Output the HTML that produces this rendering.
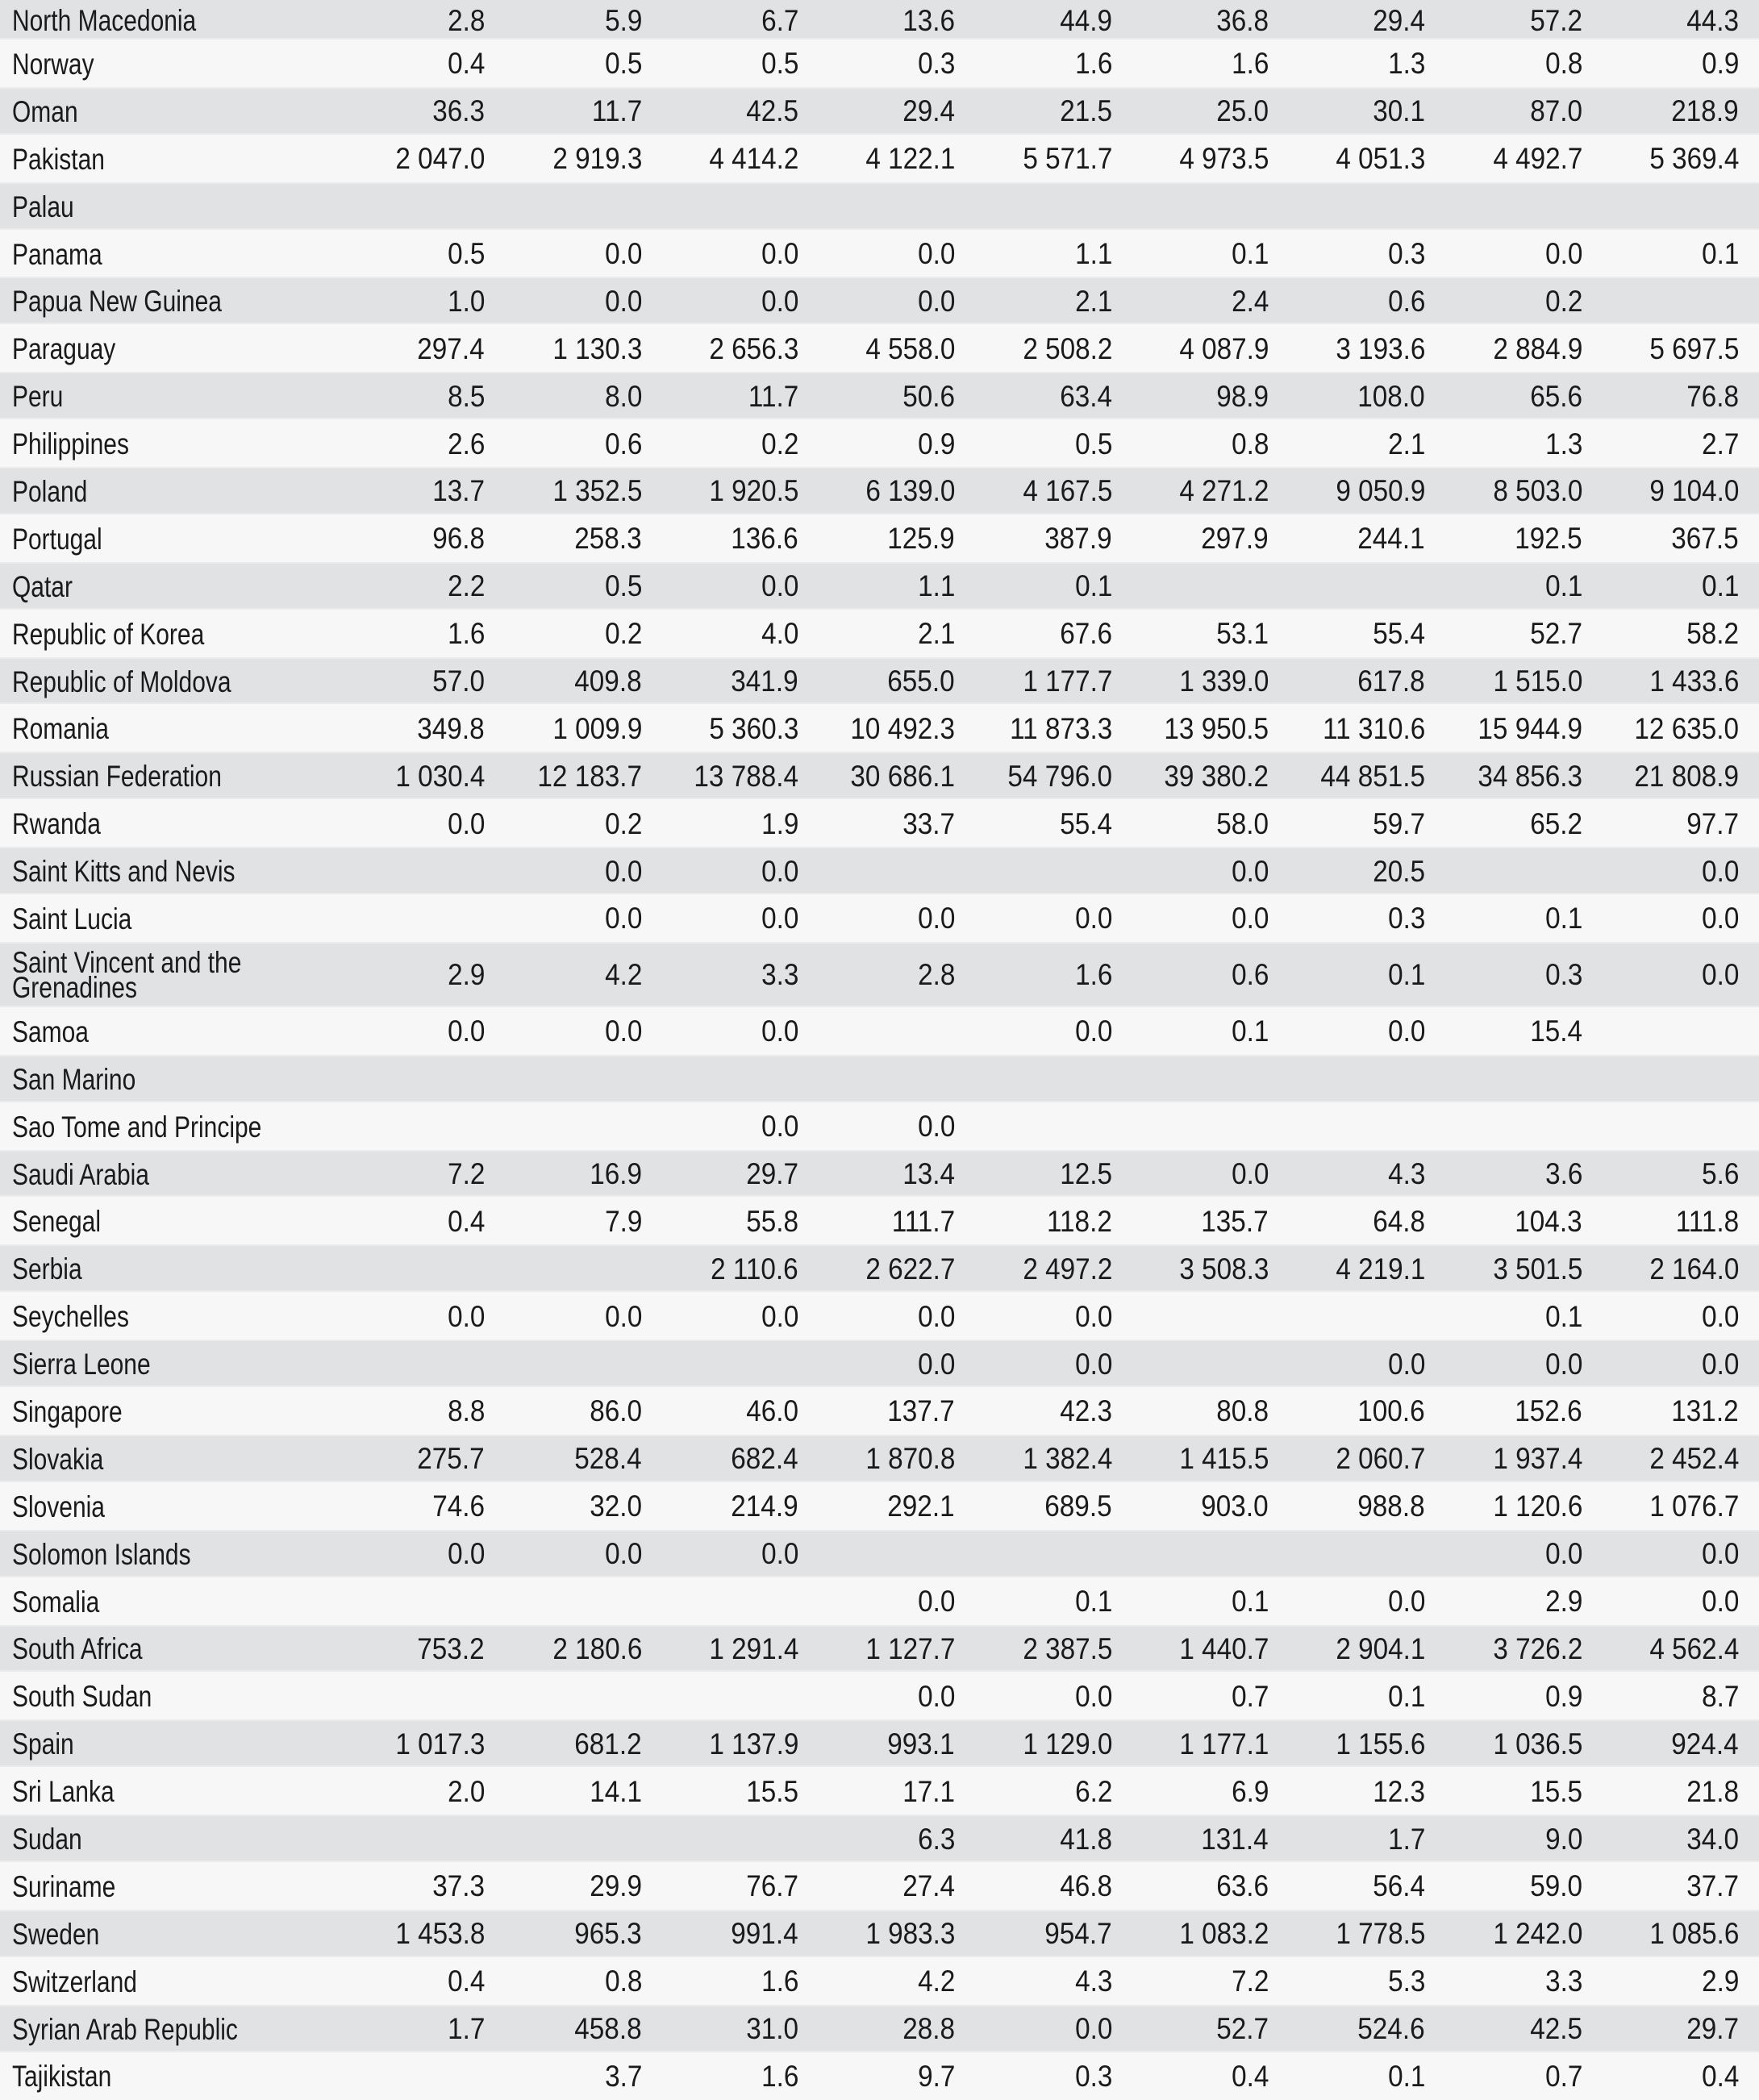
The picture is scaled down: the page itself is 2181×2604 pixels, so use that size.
<!DOCTYPE html>
<html><head><meta charset="utf-8">
<style>
html,body{margin:0;padding:0;}
body{width:2181px;height:2604px;overflow:hidden;background:#f7f7f7;font-family:"Liberation Sans",sans-serif;color:#1a1a1a;}
.r{position:relative;height:58.9px;background:#f7f7f7;}
.r.s{background:#e1e2e4;box-shadow:inset 0 2px 0 #ebebec,inset 0 -2px 0 #ebebec;}
.r.first{height:49px;box-shadow:inset 0 -2px 0 #ebebec;}
.r.tall{height:81px;}
.l{position:absolute;left:15px;top:0;height:100%;display:flex;align-items:center;padding-top:2px;box-sizing:border-box;font-size:37px;white-space:nowrap;}
.l span{display:inline-block;transform:scaleX(.81);transform-origin:left center;line-height:31px;}
.n{position:absolute;top:0;height:100%;width:190px;display:flex;align-items:center;justify-content:flex-end;padding-top:2px;box-sizing:border-box;font-size:37px;white-space:nowrap;}
.n span{display:inline-block;transform:scaleX(.9);transform-origin:right center;}
</style></head><body>
<div id="t"></div>
<script>
const R=[
["North Macedonia","2.8","5.9","6.7","13.6","44.9","36.8","29.4","57.2","44.3"],
["Norway","0.4","0.5","0.5","0.3","1.6","1.6","1.3","0.8","0.9"],
["Oman","36.3","11.7","42.5","29.4","21.5","25.0","30.1","87.0","218.9"],
["Pakistan","2 047.0","2 919.3","4 414.2","4 122.1","5 571.7","4 973.5","4 051.3","4 492.7","5 369.4"],
["Palau","","","","","","","","",""],
["Panama","0.5","0.0","0.0","0.0","1.1","0.1","0.3","0.0","0.1"],
["Papua New Guinea","1.0","0.0","0.0","0.0","2.1","2.4","0.6","0.2",""],
["Paraguay","297.4","1 130.3","2 656.3","4 558.0","2 508.2","4 087.9","3 193.6","2 884.9","5 697.5"],
["Peru","8.5","8.0","11.7","50.6","63.4","98.9","108.0","65.6","76.8"],
["Philippines","2.6","0.6","0.2","0.9","0.5","0.8","2.1","1.3","2.7"],
["Poland","13.7","1 352.5","1 920.5","6 139.0","4 167.5","4 271.2","9 050.9","8 503.0","9 104.0"],
["Portugal","96.8","258.3","136.6","125.9","387.9","297.9","244.1","192.5","367.5"],
["Qatar","2.2","0.5","0.0","1.1","0.1","","","0.1","0.1"],
["Republic of Korea","1.6","0.2","4.0","2.1","67.6","53.1","55.4","52.7","58.2"],
["Republic of Moldova","57.0","409.8","341.9","655.0","1 177.7","1 339.0","617.8","1 515.0","1 433.6"],
["Romania","349.8","1 009.9","5 360.3","10 492.3","11 873.3","13 950.5","11 310.6","15 944.9","12 635.0"],
["Russian Federation","1 030.4","12 183.7","13 788.4","30 686.1","54 796.0","39 380.2","44 851.5","34 856.3","21 808.9"],
["Rwanda","0.0","0.2","1.9","33.7","55.4","58.0","59.7","65.2","97.7"],
["Saint Kitts and Nevis","","0.0","0.0","","","0.0","20.5","","0.0"],
["Saint Lucia","","0.0","0.0","0.0","0.0","0.0","0.3","0.1","0.0"],
["Saint Vincent and the<br>Grenadines","2.9","4.2","3.3","2.8","1.6","0.6","0.1","0.3","0.0"],
["Samoa","0.0","0.0","0.0","","0.0","0.1","0.0","15.4",""],
["San Marino","","","","","","","","",""],
["Sao Tome and Principe","","","0.0","0.0","","","","",""],
["Saudi Arabia","7.2","16.9","29.7","13.4","12.5","0.0","4.3","3.6","5.6"],
["Senegal","0.4","7.9","55.8","111.7","118.2","135.7","64.8","104.3","111.8"],
["Serbia","","","2 110.6","2 622.7","2 497.2","3 508.3","4 219.1","3 501.5","2 164.0"],
["Seychelles","0.0","0.0","0.0","0.0","0.0","","","0.1","0.0"],
["Sierra Leone","","","","0.0","0.0","","0.0","0.0","0.0"],
["Singapore","8.8","86.0","46.0","137.7","42.3","80.8","100.6","152.6","131.2"],
["Slovakia","275.7","528.4","682.4","1 870.8","1 382.4","1 415.5","2 060.7","1 937.4","2 452.4"],
["Slovenia","74.6","32.0","214.9","292.1","689.5","903.0","988.8","1 120.6","1 076.7"],
["Solomon Islands","0.0","0.0","0.0","","","","","0.0","0.0"],
["Somalia","","","","0.0","0.1","0.1","0.0","2.9","0.0"],
["South Africa","753.2","2 180.6","1 291.4","1 127.7","2 387.5","1 440.7","2 904.1","3 726.2","4 562.4"],
["South Sudan","","","","0.0","0.0","0.7","0.1","0.9","8.7"],
["Spain","1 017.3","681.2","1 137.9","993.1","1 129.0","1 177.1","1 155.6","1 036.5","924.4"],
["Sri Lanka","2.0","14.1","15.5","17.1","6.2","6.9","12.3","15.5","21.8"],
["Sudan","","","","6.3","41.8","131.4","1.7","9.0","34.0"],
["Suriname","37.3","29.9","76.7","27.4","46.8","63.6","56.4","59.0","37.7"],
["Sweden","1 453.8","965.3","991.4","1 983.3","954.7","1 083.2","1 778.5","1 242.0","1 085.6"],
["Switzerland","0.4","0.8","1.6","4.2","4.3","7.2","5.3","3.3","2.9"],
["Syrian Arab Republic","1.7","458.8","31.0","28.8","0.0","52.7","524.6","42.5","29.7"],
["Tajikistan","","3.7","1.6","9.7","0.3","0.4","0.1","0.7","0.4"]
];
const E=[601,796,990,1184,1379,1573,1767,1962,2156];
let h="";
R.forEach((r,i)=>{
 let c="r"+(i%2==0?" s":"")+(i==0?" first":"")+(i==20?" tall":"");
 h+=`<div class="${c}"><div class="l"><span>${r[0]}</span></div>`;
 for(let k=1;k<10;k++){h+=`<div class="n" style="left:${E[k-1]-190}px"><span>${r[k]}</span></div>`;}
 h+="</div>";
});
document.getElementById("t").innerHTML=h;
</script>
</body></html>
